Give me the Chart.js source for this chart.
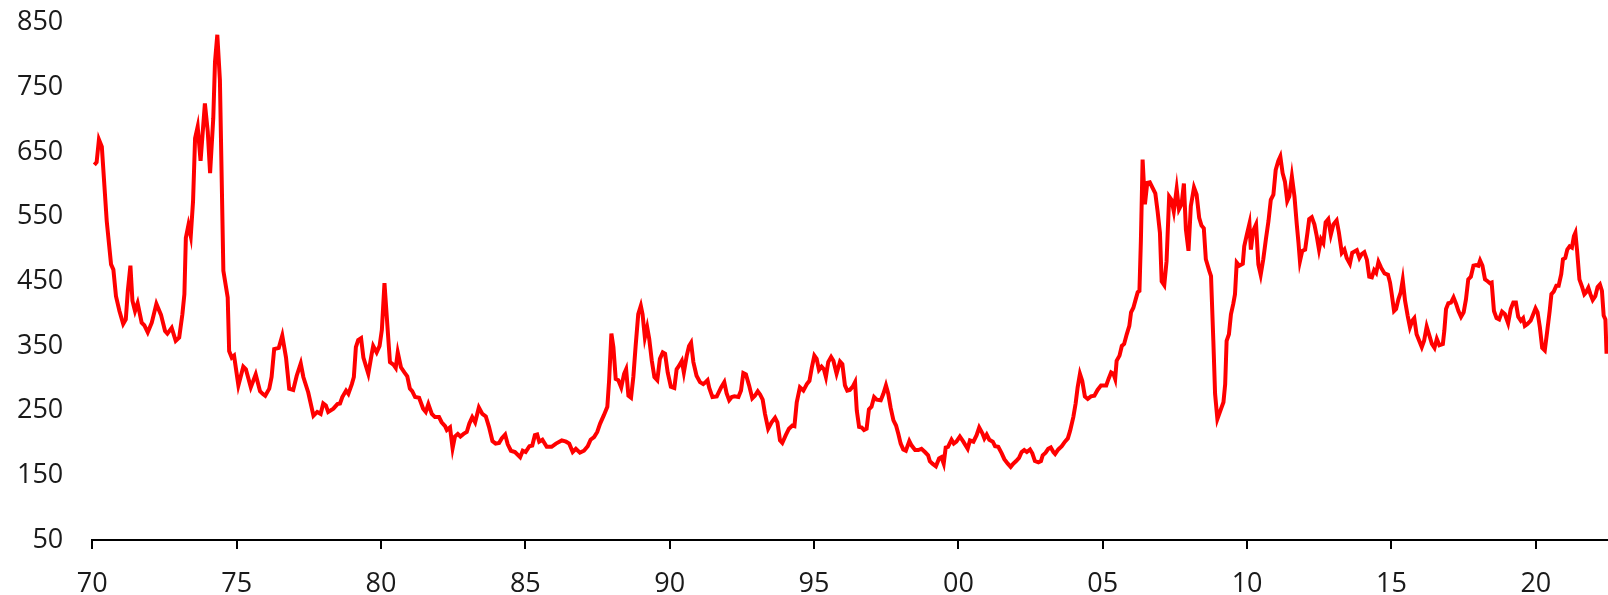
<!DOCTYPE html>
<html>
<head>
<meta charset="utf-8">
<script src="https://cdn.jsdelivr.net/npm/chart.js@4.4.0/dist/chart.umd.min.js"></script>
<style>
  body { margin: 0; background: #fff; }
  #wrap { width: 1608px; height: 595px; }
</style>
</head>
<body>
<div id="wrap"><canvas id="priceChart" width="1608" height="595"></canvas></div>
<script>
// Decimal year of each reading, and the value at that point
const years = [
  1970.07, 1970.15, 1970.23, 1970.33, 1970.50, 1970.65, 1970.73, 1970.82, 1970.94, 1971.07,
  1971.16, 1971.23, 1971.32, 1971.39, 1971.48, 1971.57, 1971.71, 1971.80, 1971.92, 1972.06,
  1972.22, 1972.38, 1972.52, 1972.60, 1972.75, 1972.89, 1973.01, 1973.12, 1973.19, 1973.24,
  1973.33, 1973.41, 1973.49, 1973.56, 1973.65, 1973.75, 1973.90, 1974.00, 1974.08, 1974.19,
  1974.25, 1974.33, 1974.42, 1974.54, 1974.69, 1974.74, 1974.83, 1974.91, 1975.06, 1975.23,
  1975.32, 1975.49, 1975.66, 1975.81, 1975.90, 1975.99, 1976.13, 1976.21, 1976.30, 1976.46,
  1976.58, 1976.71, 1976.82, 1976.96, 1977.08, 1977.22, 1977.31, 1977.48, 1977.66, 1977.79,
  1977.91, 1978.00, 1978.09, 1978.17, 1978.35, 1978.49, 1978.58, 1978.66, 1978.79, 1978.87,
  1978.99, 1979.06, 1979.13, 1979.21, 1979.31, 1979.39, 1979.56, 1979.68, 1979.73, 1979.85,
  1979.95, 1980.03, 1980.12, 1980.25, 1980.31, 1980.43, 1980.51, 1980.58, 1980.69, 1980.81,
  1980.91, 1981.00, 1981.08, 1981.18, 1981.32, 1981.46, 1981.55, 1981.64, 1981.76, 1981.87,
  1982.01, 1982.10, 1982.22, 1982.28, 1982.39, 1982.48, 1982.56, 1982.66, 1982.75, 1982.86,
  1982.97, 1983.06, 1983.16, 1983.26, 1983.39, 1983.51, 1983.63, 1983.74, 1983.86, 1983.97,
  1984.09, 1984.18, 1984.30, 1984.39, 1984.50, 1984.64, 1984.82, 1984.91, 1985.01, 1985.14,
  1985.24, 1985.33, 1985.41, 1985.48, 1985.59, 1985.74, 1985.91, 1986.06, 1986.26, 1986.41,
  1986.52, 1986.64, 1986.75, 1986.89, 1987.03, 1987.16, 1987.26, 1987.38, 1987.49, 1987.59,
  1987.72, 1987.84, 1987.90, 1987.98, 1988.05, 1988.13, 1988.22, 1988.32, 1988.42, 1988.49,
  1988.57, 1988.66, 1988.74, 1988.82, 1988.91, 1989.00, 1989.06, 1989.14, 1989.22, 1989.29,
  1989.38, 1989.47, 1989.57, 1989.66, 1989.76, 1989.84, 1989.93, 1990.04, 1990.16, 1990.24,
  1990.32, 1990.42, 1990.49, 1990.59, 1990.67, 1990.74, 1990.82, 1990.93, 1991.05, 1991.16,
  1991.24, 1991.31, 1991.37, 1991.48, 1991.63, 1991.78, 1991.89, 1991.97, 1992.06, 1992.15,
  1992.24, 1992.38, 1992.47, 1992.55, 1992.64, 1992.75, 1992.86, 1992.95, 1993.05, 1993.13,
  1993.22, 1993.30, 1993.41, 1993.53, 1993.65, 1993.73, 1993.82, 1993.90, 1994.02, 1994.13,
  1994.25, 1994.32, 1994.40, 1994.51, 1994.63, 1994.75, 1994.84, 1994.92, 1995.01, 1995.09,
  1995.17, 1995.26, 1995.34, 1995.41, 1995.49, 1995.59, 1995.67, 1995.78, 1995.90, 1995.98,
  1996.07, 1996.15, 1996.24, 1996.34, 1996.42, 1996.48, 1996.56, 1996.65, 1996.73, 1996.82,
  1996.90, 1996.99, 1997.08, 1997.17, 1997.31, 1997.40, 1997.49, 1997.57, 1997.65, 1997.75,
  1997.84, 1997.92, 1998.00, 1998.09, 1998.18, 1998.30, 1998.38, 1998.50, 1998.61, 1998.72,
  1998.84, 1998.95, 1999.01, 1999.10, 1999.22, 1999.33, 1999.41, 1999.49, 1999.56, 1999.64,
  1999.76, 1999.84, 1999.93, 2000.05, 2000.17, 2000.25, 2000.32, 2000.40, 2000.52, 2000.63,
  2000.72, 2000.83, 2000.90, 2000.98, 2001.07, 2001.19, 2001.27, 2001.38, 2001.50, 2001.59,
  2001.71, 2001.81, 2001.90, 2002.00, 2002.10, 2002.19, 2002.28, 2002.37, 2002.48, 2002.56,
  2002.65, 2002.77, 2002.86, 2002.92, 2003.02, 2003.11, 2003.20, 2003.29, 2003.35, 2003.46,
  2003.58, 2003.69, 2003.79, 2003.87, 2003.98, 2004.06, 2004.13, 2004.21, 2004.29, 2004.38,
  2004.48, 2004.59, 2004.71, 2004.82, 2004.94, 2005.05, 2005.12, 2005.20, 2005.29, 2005.37,
  2005.43, 2005.48, 2005.58, 2005.66, 2005.74, 2005.83, 2005.92, 2005.98, 2006.06, 2006.14,
  2006.21, 2006.27, 2006.32, 2006.38, 2006.46, 2006.54, 2006.63, 2006.73, 2006.82, 2006.90,
  2006.98, 2007.04, 2007.13, 2007.21, 2007.30, 2007.38, 2007.46, 2007.56, 2007.64, 2007.73,
  2007.81, 2007.88, 2007.97, 2008.05, 2008.16, 2008.25, 2008.34, 2008.42, 2008.50, 2008.57,
  2008.69, 2008.75, 2008.83, 2008.89, 2008.97, 2009.09, 2009.18, 2009.24, 2009.29, 2009.37,
  2009.44, 2009.52, 2009.58, 2009.64, 2009.73, 2009.85, 2009.90, 2009.99, 2010.08, 2010.13,
  2010.21, 2010.31, 2010.39, 2010.47, 2010.56, 2010.65, 2010.74, 2010.82, 2010.91, 2010.99,
  2011.08, 2011.15, 2011.23, 2011.31, 2011.39, 2011.46, 2011.55, 2011.64, 2011.72, 2011.78,
  2011.83, 2011.91, 2012.01, 2012.09, 2012.15, 2012.24, 2012.33, 2012.41, 2012.49, 2012.56,
  2012.64, 2012.72, 2012.81, 2012.90, 2012.99, 2013.10, 2013.18, 2013.28, 2013.37, 2013.45,
  2013.56, 2013.64, 2013.80, 2013.89, 2013.97, 2014.06, 2014.15, 2014.23, 2014.32, 2014.40,
  2014.47, 2014.55, 2014.64, 2014.76, 2014.88, 2014.95, 2015.01, 2015.09, 2015.16, 2015.24,
  2015.32, 2015.39, 2015.47, 2015.56, 2015.64, 2015.72, 2015.79, 2015.87, 2015.96, 2016.05,
  2016.13, 2016.22, 2016.30, 2016.40, 2016.49, 2016.57, 2016.66, 2016.78, 2016.83, 2016.89,
  2016.97, 2017.06, 2017.15, 2017.24, 2017.32, 2017.41, 2017.50, 2017.58, 2017.66, 2017.75,
  2017.84, 2017.93, 2018.01, 2018.07, 2018.15, 2018.24, 2018.33, 2018.41, 2018.47, 2018.55,
  2018.64, 2018.73, 2018.83, 2018.93, 2019.04, 2019.13, 2019.22, 2019.31, 2019.39, 2019.48,
  2019.56, 2019.62, 2019.71, 2019.82, 2019.91, 2019.99, 2020.06, 2020.14, 2020.22, 2020.31,
  2020.39, 2020.48, 2020.54, 2020.62, 2020.71, 2020.79, 2020.88, 2020.94, 2021.02, 2021.09,
  2021.17, 2021.25, 2021.32, 2021.37, 2021.43, 2021.51, 2021.59, 2021.68, 2021.74, 2021.82,
  2021.89, 2021.97, 2022.06, 2022.14, 2022.22, 2022.29, 2022.35, 2022.41, 2022.45
];

const values = [
  630, 634, 669, 658, 543, 476, 468, 427, 404, 384,
  391, 435, 474, 420, 404, 416, 386, 382, 371, 386,
  415, 398, 373, 369, 378, 358, 363, 399, 430, 517,
  537, 520, 574, 671, 689, 636, 725, 681, 617, 702,
  789, 831, 761, 466, 425, 342, 332, 335, 289, 318,
  314, 286, 306, 280, 276, 273, 284, 302, 345, 347,
  366, 332, 284, 282, 304, 323, 302, 278, 242, 248,
  245, 261, 258, 248, 253, 260, 261, 271, 281, 276,
  291, 302, 348, 359, 362, 332, 307, 338, 350, 340,
  350, 375, 447, 363, 325, 321, 316, 340, 317, 309,
  303, 284, 280, 271, 270, 253, 248, 260, 245, 240,
  240, 232, 226, 220, 224, 192, 210, 214, 210, 214,
  217, 230, 240, 232, 255, 245, 241, 225, 203, 199,
  200, 207, 213, 198, 188, 186, 178, 188, 186, 195,
  196, 212, 213, 202, 205, 194, 194, 199, 204, 202,
  199, 186, 191, 185, 188, 195, 205, 209, 217, 230,
  243, 256, 296, 369, 348, 299, 297, 286, 307, 314,
  273, 270, 302, 350, 399, 412, 399, 363, 379, 361,
  327, 302, 297, 330, 340, 338, 309, 287, 285, 314,
  319, 327, 309, 335, 350, 355, 325, 304, 294, 291,
  294, 297, 285, 271, 272, 286, 294, 277, 266, 271,
  272, 271, 281, 308, 306, 289, 269, 273, 280, 275,
  267, 245, 222, 232, 239, 232, 204, 200, 212, 222,
  227, 226, 263, 286, 281, 291, 296, 316, 335, 330,
  313, 318, 314, 302, 325, 333, 327, 307, 326, 322,
  289, 281, 282, 287, 294, 250, 225, 224, 220, 222,
  252, 256, 271, 267, 266, 276, 289, 276, 255, 235,
  227, 214, 199, 190, 188, 203, 196, 189, 189, 191,
  186, 181, 172, 168, 164, 176, 178, 168, 193, 194,
  205, 199, 202, 210, 202, 196, 191, 204, 202, 212,
  224, 215, 207, 213, 205, 202, 195, 194, 184, 175,
  168, 163, 168, 172, 177, 186, 189, 186, 190, 184,
  172, 170, 172, 181, 185, 191, 193, 186, 183, 190,
  195, 202, 207, 219, 240, 261, 286, 307, 296, 272,
  268, 272, 273, 282, 289, 289, 289, 299, 309, 307,
  299, 327, 335, 350, 353, 368, 381, 402, 409, 422,
  433, 435, 512, 638, 569, 602, 603, 594, 586, 558,
  525, 450, 444, 481, 581, 576, 558, 593, 561, 569,
  601, 530, 497, 566, 595, 584, 548, 536, 532, 484,
  466, 458, 358, 276, 237, 252, 263, 291, 358, 368,
  399, 415, 430, 479, 474, 477, 504, 522, 539, 499,
  528, 538, 476, 460, 484, 515, 543, 576, 584, 622,
  636, 643, 617, 604, 574, 581, 612, 581, 538, 509,
  481, 497, 499, 525, 546, 549, 538, 520, 499, 515,
  509, 541, 546, 522, 538, 544, 525, 494, 499, 486,
  477, 494, 498, 486, 492, 495, 483, 457, 456, 467,
  463, 480, 471, 462, 460, 448, 430, 404, 407, 422,
  433, 452, 420, 397, 379, 389, 393, 368, 358, 348,
  358, 380, 368, 353, 347, 361, 351, 353, 373, 407,
  416, 417, 425, 415, 404, 395, 402, 422, 453, 457,
  474, 475, 474, 482, 474, 453, 450, 447, 448, 404,
  393, 391, 403, 399, 385, 407, 417, 417, 395, 389,
  393, 381, 384, 389, 399, 408, 402, 379, 347, 343,
  371, 404, 430, 434, 443, 443, 461, 484, 486, 499,
  504, 502, 520, 525, 497, 453, 443, 430, 433, 440,
  430, 421, 427, 441, 445, 435, 397, 391, 338
];

const tickYears = [1970, 1975, 1980, 1985, 1990, 1995, 2000, 2005, 2010, 2015, 2020];
const tickLabels = ['70', '75', '80', '85', '90', '95', '00', '05', '10', '15', '20'];
const yTicks = [50, 150, 250, 350, 450, 550, 650, 750, 850];

function initChart() {
    const ctx = document.getElementById('priceChart').getContext('2d');
    const axisFont = { family: "'Open Sans', 'Noto Sans', sans-serif", size: 27 };

    new Chart(ctx, {
        type: 'line',
        data: {
            datasets: [{
                data: years.map((y, i) => ({ x: y, y: values[i] })),
                borderColor: '#ff0000',
                borderWidth: 4,
                pointRadius: 0,
                tension: 0,
                fill: false
            }]
        },
        options: {
            responsive: false,
            animation: false,
            layout: { padding: { top: 22.5, right: 0, bottom: 0, left: 0 } },
            plugins: {
                legend: { display: false },
                tooltip: { enabled: false }
            },
            scales: {
                x: {
                    type: 'linear',
                    min: 1970,
                    max: 2022.5,
                    afterBuildTicks: axis => { axis.ticks = tickYears.map(v => ({ value: v })); },
                    afterFit: axis => {
                        axis.height = 55;
                        axis.paddingLeft = 0;
                        axis.paddingRight = 0;
                    },
                    border: { display: true, color: '#000', width: 2 },
                    grid: { drawOnChartArea: false, drawTicks: true, tickLength: 9, color: '#000', lineWidth: 2 },
                    ticks: {
                        color: '#1a1a1a',
                        font: axisFont,
                        padding: 19,
                        maxRotation: 0,
                        autoSkip: false,
                        callback: (v, i) => tickLabels[i]
                    }
                },
                y: {
                    min: 50,
                    max: 850,
                    afterBuildTicks: axis => { axis.ticks = yTicks.map(v => ({ value: v })); },
                    afterFit: axis => {
                        axis.width = 92.3;
                        axis.paddingTop = 0;
                        axis.paddingBottom = 0;
                    },
                    border: { display: false },
                    grid: { display: false },
                    ticks: {
                        color: '#1a1a1a',
                        font: axisFont,
                        padding: 21
                    }
                }
            }
        }
    });
}

document.addEventListener('DOMContentLoaded', initChart);
</script>
</body>
</html>
